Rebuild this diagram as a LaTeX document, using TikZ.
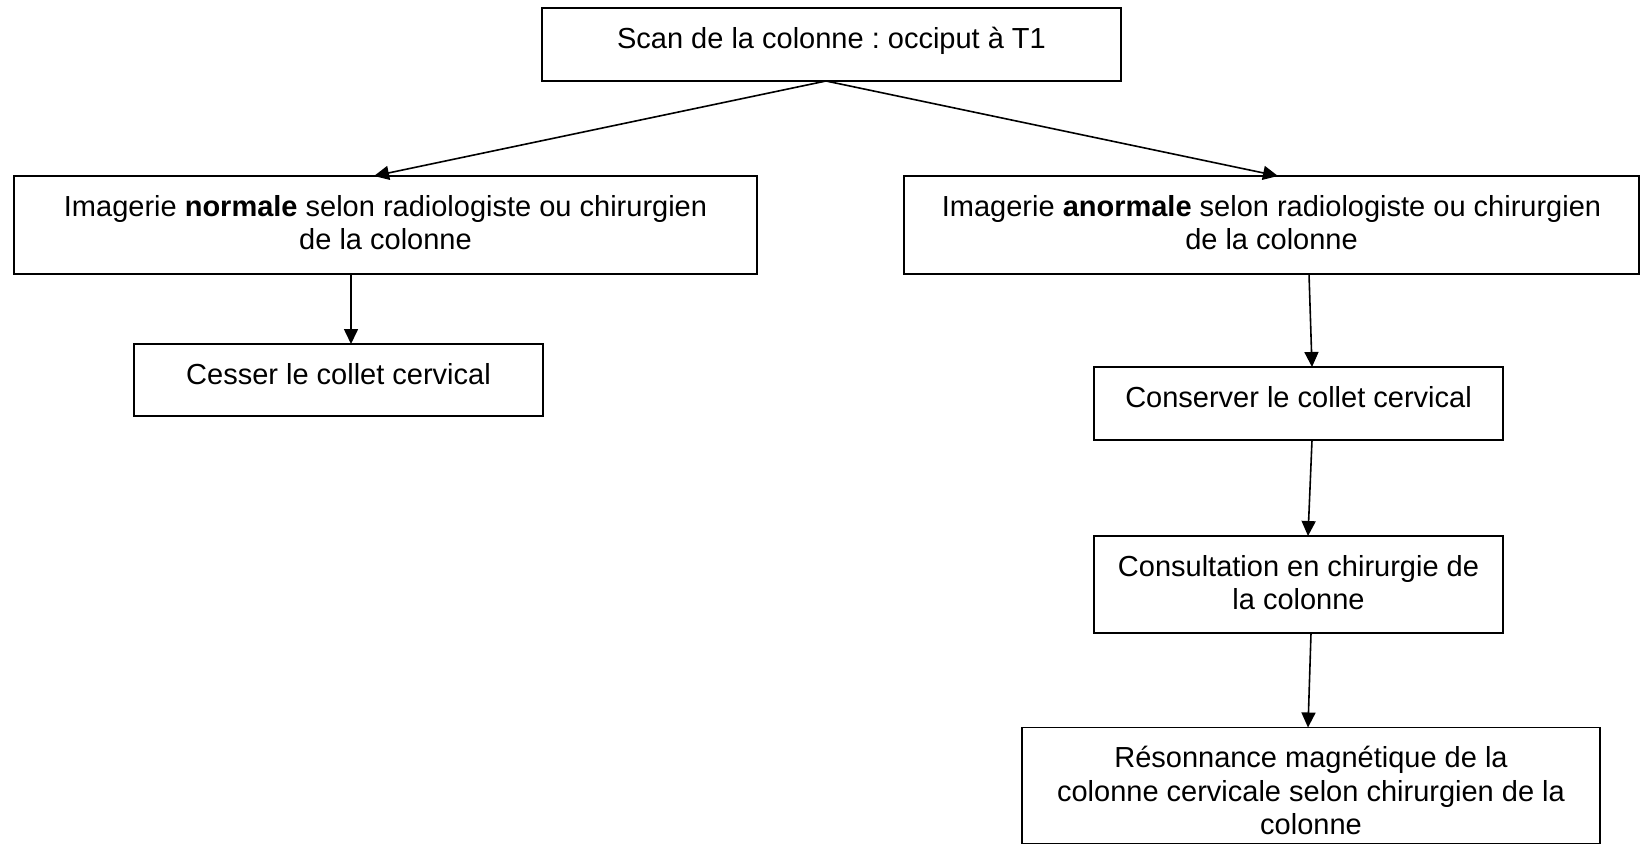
\documentclass[tikz,border=0pt]{standalone}
\usepackage{fontspec}
\setmainfont{Liberation Sans}
\usetikzlibrary{arrows.meta}
\frenchspacing
\newcommand{\bxtext}[3]{\parbox[c][#2pt][t]{#1pt}{\centering\rule{0pt}{40pt}#3}}
\tikzset{
  boxnode/.style={draw=black, line width=1.8pt, inner sep=0pt, outer sep=0pt, fill=white},
  arr/.style={line width=1.6pt, -{Triangle[length=15pt,width=14pt]}}
}
\begin{document}
\begin{tikzpicture}[x=1pt,y=-1pt]
\useasboundingbox (0,0) rectangle (1640,844);
\fontsize{29}{33.5}\selectfont
\frenchspacing
\node[boxnode] (top) at (831.5,44.5) {\bxtext{579}{73}{Scan de la colonne : occiput à T1}};
\node[boxnode] (left) at (385.5,225) {\bxtext{743}{98}{Imagerie \textbf{normale} selon radiologiste ou chirurgien\\de la colonne}};
\node[boxnode] (right) at (1271.5,225) {\bxtext{735}{98}{Imagerie \textbf{anormale} selon radiologiste ou chirurgien\\de la colonne}};
\node[boxnode] (cesser) at (338.5,380) {\bxtext{409}{72}{Cesser le collet cervical}};
\node[boxnode] (conserver) at (1298.5,403.5) {\bxtext{409}{73}{Conserver le collet cervical}};
\node[boxnode] (consult) at (1298.5,584.5) {\bxtext{409}{97}{Consultation en chirurgie de\\la colonne}};
\node[boxnode] (reso) at (1311,785.5) {\bxtext{578}{116}{Résonnance magnétique de la\\colonne cervicale selon chirurgien de la\\colonne}};
\draw[arr] ([xshift=-5.5pt]top.south) -- ([xshift=-11.5pt]left.north);
\draw[arr] ([xshift=-5.5pt]top.south) -- ([xshift=6.5pt]right.north);
\draw[arr] ([xshift=-34.5pt]left.south) -- ([xshift=12.5pt]cesser.north);
\draw[arr] ([xshift=37.5pt]right.south) -- ([xshift=13.5pt]conserver.north);
\draw[arr] ([xshift=13.5pt]conserver.south) -- ([xshift=9.5pt]consult.north);
\draw[arr] ([xshift=12.5pt]consult.south) -- ([xshift=-3pt]reso.north);
\end{tikzpicture}
\end{document}
